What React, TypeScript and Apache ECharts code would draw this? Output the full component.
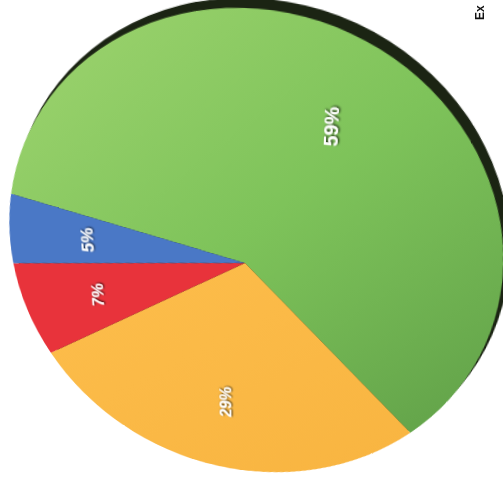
import React, { useEffect, useRef } from "react";
import * as echarts from "echarts";

const categories = ["Green", "Yellow", "Red", "Blue"];
const values = [59, 29, 7, 5];
const labels = ["59%", "29%", "7%", "5%"];
const titleText = "Ex";

export default function App() {
  const pieRef = useRef<HTMLDivElement>(null);
  const titleRef = useRef<HTMLDivElement>(null);
  useEffect(() => {
    if (!pieRef.current || !titleRef.current) return;
    const chart = echarts.init(pieRef.current, undefined, { renderer: "svg" });
    const titleChart = echarts.init(titleRef.current, undefined, { renderer: "svg" });
    const colors = [
      new echarts.graphic.LinearGradient(0, 0, 1, 1, [
        { offset: 0, color: "#a0d570" },
        { offset: 0.5, color: "#7ec35a" },
        { offset: 1, color: "#60a048" },
      ]),
      new echarts.graphic.LinearGradient(0, 0, 1, 1, [
        { offset: 0, color: "#fdbe4c" },
        { offset: 1, color: "#f8b440" },
      ]),
      "#e8333b",
      "#4a78c6",
    ];
    const data = categories.map((c, i) => ({
      name: c,
      value: values[i],
      itemStyle: { color: colors[i] as any },
    }));
    const labelData = categories.map((c, i) => ({
      name: c,
      value: values[i],
      label: { formatter: labels[i] },
    }));
    const center = [300, 300];
    const R = 250;
    chart.setOption({
      animation: false,
      series: [
        {
          type: "pie",
          center: [305, 291],
          radius: [0, R],
          silent: true,
          label: { show: false },
          itemStyle: { color: "#1b2413", borderWidth: 0 },
          data: [{ value: 1, name: "shadow" }],
        },
        {
          type: "pie",
          center,
          radius: [0, R],
          startAngle: 167,
          clockwise: true,
          silent: true,
          label: { show: false },
          labelLine: { show: false },
          itemStyle: { borderWidth: 0 },
          data,
        },
        {
          type: "pie",
          center,
          radius: [76, R],
          startAngle: 167,
          clockwise: true,
          silent: true,
          itemStyle: { color: "rgba(0,0,0,0)", borderWidth: 0 },
          labelLine: { show: false },
          label: {
            show: true,
            position: "inside",
            rotate: 90,
            color: "#ffffff",
            fontSize: 19,
            fontWeight: "bold",
            fontFamily: "Arial, 'Liberation Sans', sans-serif",
            textShadowColor: "rgba(0,0,0,0.85)",
            textShadowBlur: 2,
            textShadowOffsetX: 1,
            textShadowOffsetY: 1,
          },
          data: labelData,
        },
      ],
    });
    titleChart.setOption({
      animation: false,
      graphic: [
        {
          type: "text",
          x: 480,
          y: 20,
          rotation: Math.PI / 2,
          style: {
            text: titleText,
            fill: "#111",
            font: "bold 12px Arial, 'Liberation Sans', sans-serif",
            textAlign: "left",
            textVerticalAlign: "middle",
          },
        },
      ],
    });
    return () => {
      chart.dispose();
      titleChart.dispose();
    };
  }, []);
  return (
    <div style={{ position: "fixed", left: 0, top: 0, width: 503, height: 483, overflow: "hidden", background: "#ffffff" }}>
      <div
        ref={pieRef}
        style={{
          position: "absolute",
          left: -55,
          top: -37,
          width: 600,
          height: 600,
          transformOrigin: "300px 300px",
          transform: "perspective(980px) rotateX(-23.8deg) rotateY(-11.3deg)",
        }}
      />
      <div
        ref={titleRef}
        style={{ position: "absolute", left: 0, top: 0, width: 503, height: 483, pointerEvents: "none" }}
      />
    </div>
  );
}
